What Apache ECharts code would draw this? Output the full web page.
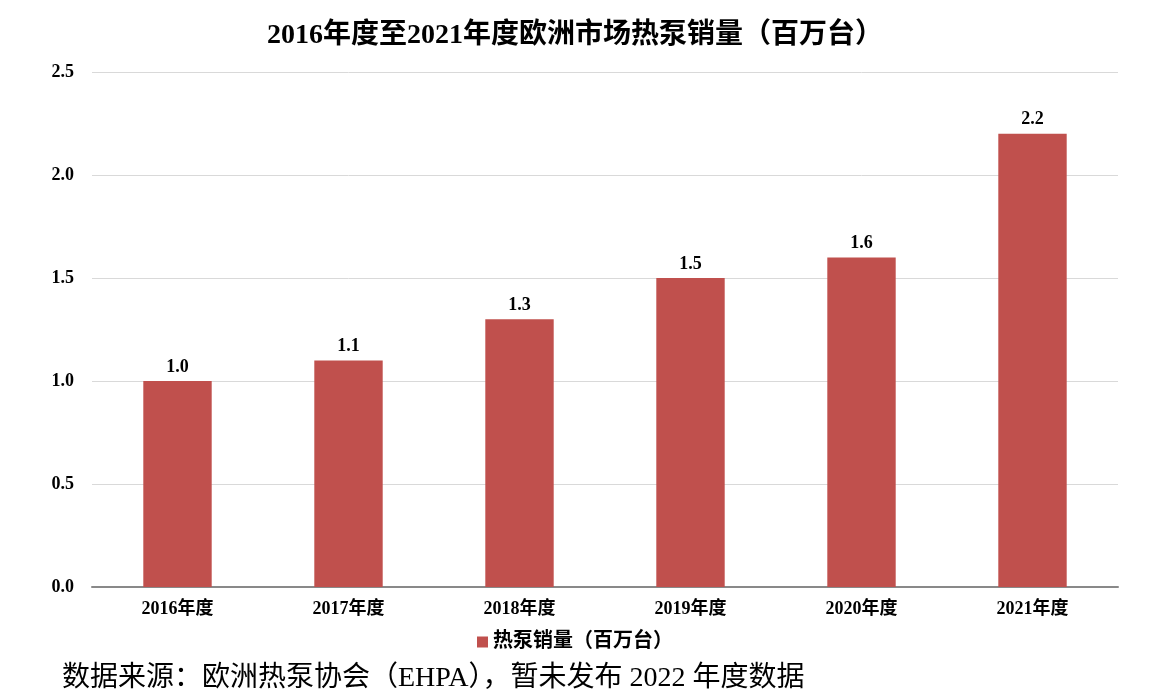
<!DOCTYPE html>
<html>
<head>
<meta charset="utf-8">
<script src="https://cdn.jsdelivr.net/npm/echarts@6/dist/echarts.min.js"></script>
<style>
  html, body { margin: 0; padding: 0; background: #fff; }
  #chart { width: 1150px; height: 698px; }
</style>
</head>
<body>
<div id="chart"></div>
<script>
const categories = ["2016年度", "2017年度", "2018年度", "2019年度", "2020年度", "2021年度"];
const sales = [1.0, 1.1, 1.3, 1.5, 1.6, 2.2];
const seriesName = "热泵销量（百万台）";

const serif = "'Liberation Serif', 'Times New Roman', 'Noto Sans CJK SC', serif";

const chart = echarts.init(document.getElementById("chart"), null, { renderer: "canvas" });

chart.setOption({
  animation: false,
  title: [
    {
      text: "2016年度至2021年度欧洲市场热泵销量（百万台）",
      left: "center",
      top: 17,
      textStyle: { fontFamily: serif, fontSize: 28, fontWeight: "bold", color: "#000" },
    },
    {
      text: "数据来源：欧洲热泵协会（EHPA），暂未发布 2022 年度数据",
      left: 57,
      top: 660,
      textStyle: { fontFamily: serif, fontSize: 28, fontWeight: "normal", color: "#000" },
    },
  ],
  legend: {
    top: 627,
    left: "center",
    itemWidth: 11,
    itemHeight: 11,
    itemGap: 5,
    icon: "rect",
    textStyle: { fontFamily: serif, fontSize: 20, fontWeight: "bold", color: "#000" },
    data: [seriesName],
  },
  grid: {
    left: 92,
    right: 32,
    top: 72,
    bottom: 111,
  },
  xAxis: {
    type: "category",
    data: categories,
    axisTick: { show: false },
    axisLine: { lineStyle: { color: "#898989", width: 2 } },
    axisLabel: {
      fontFamily: serif,
      fontSize: 18,
      fontWeight: "bold",
      color: "#000",
      margin: 13,
    },
  },
  yAxis: {
    type: "value",
    min: 0,
    max: 2.5,
    interval: 0.5,
    axisLine: { show: false },
    axisTick: { show: false },
    axisLabel: {
      fontFamily: serif,
      fontSize: 18,
      fontWeight: "bold",
      color: "#000",
      margin: 18,
      formatter: (v) => v.toFixed(1),
    },
    splitLine: { lineStyle: { color: "#d9d9d9", width: 1 } },
  },
  series: [
    {
      name: seriesName,
      type: "bar",
      data: sales,
      barWidth: "40%",
      itemStyle: { color: "#c0504d" },
      label: {
        show: true,
        position: "top",
        distance: 5,
        fontFamily: serif,
        fontSize: 18,
        fontWeight: "bold",
        color: "#000",
        formatter: (p) => p.value.toFixed(1),
      },
    },
  ],
});
</script>
</body>
</html>
